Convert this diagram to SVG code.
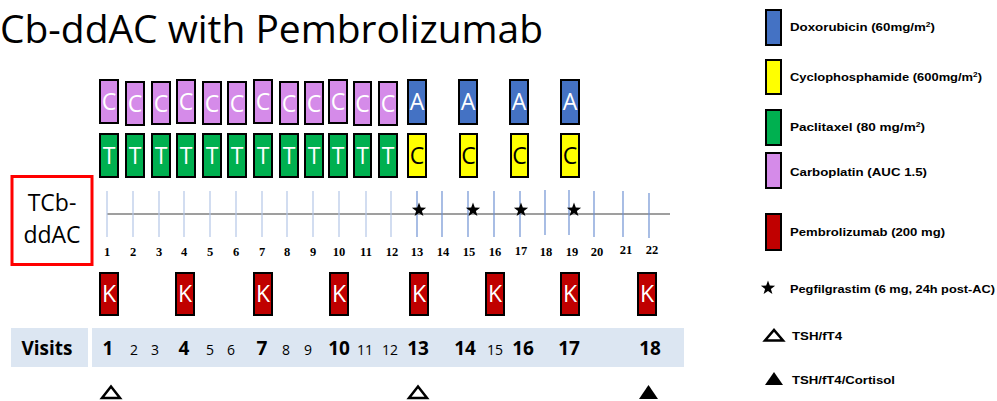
<svg xmlns="http://www.w3.org/2000/svg" width="997" height="401" viewBox="0 0 997 401">
  <defs>
    <path id="star" d="M0,-7.5 L1.8,-2.45 L7.13,-2.32 L2.9,0.94 L4.41,6.07 L0,3.05 L-4.41,6.07 L-2.9,0.94 L-7.13,-2.32 L-1.8,-2.45 Z"/>
    <style>
      .box { stroke: #000; stroke-width: 2; }
      .carbo { fill: #d58be9; }
      .pacli { fill: #00b050; }
      .doxo { fill: #4472c4; }
      .cyclo { fill: #ffff00; }
      .pembro { fill: #c00000; }
      .lt { font-family: "Open Sans", "Liberation Sans", sans-serif; font-size: 23px; text-anchor: middle; fill: #fff; }
      .lt.dark { fill: #000; }
      .tick { stroke: #b4c7e7; stroke-width: 1.2; }
      .tick.dk { stroke: #6f92d3; }
      .wk { font-family: "Liberation Serif", serif; font-weight: bold; font-size: 12.5px; text-anchor: middle; fill: #000; }
      .band { fill: #dce6f2; }
      .vbig { font-family: "Open Sans", "Liberation Sans", sans-serif; font-weight: bold; font-size: 19px; text-anchor: middle; fill: #000; }
      .vsm { font-family: "Open Sans", "Liberation Sans", sans-serif; font-size: 14px; text-anchor: middle; fill: #000; }
      .leg { font-family: "Liberation Sans", sans-serif; font-weight: bold; font-size: 11px; fill: #000; }
      .sup { font-size: 7px; }
      .tri { fill: #fff; stroke: #000; stroke-width: 2.5; stroke-linejoin: miter; }
      .trif { fill: #000; }
    </style>
  </defs>

  <rect width="997" height="401" fill="#fff"/>

  <!-- title -->
  <text x="0" y="43" font-family="Open Sans, Liberation Sans, sans-serif" font-size="39" fill="#000" textLength="543" lengthAdjust="spacingAndGlyphs">Cb-ddAC with Pembrolizumab</text>

  <!-- regimen label -->
  <g id="regimen">
    <rect x="12" y="176.5" width="80" height="88" fill="#fff" stroke="#ff0000" stroke-width="3"/>
    <text x="52" y="211" font-family="Open Sans, Liberation Sans, sans-serif" font-size="23" text-anchor="middle">TCb-</text>
    <text x="52" y="243" font-family="Open Sans, Liberation Sans, sans-serif" font-size="23" text-anchor="middle">ddAC</text>
  </g>

  <!-- carboplatin row -->
  <g id="carboplatin">
    <rect class="box carbo" x="100" y="80" width="18" height="43"/><text class="lt" x="109" y="110">C</text>
    <rect class="box carbo" x="126" y="82" width="18" height="43"/><text class="lt" x="135" y="112">C</text>
    <rect class="box carbo" x="152" y="82" width="18" height="42"/><text class="lt" x="161" y="112">C</text>
    <rect class="box carbo" x="177" y="80" width="18" height="43"/><text class="lt" x="186" y="110">C</text>
    <rect class="box carbo" x="203" y="82" width="18" height="42"/><text class="lt" x="212" y="112">C</text>
    <rect class="box carbo" x="228" y="82" width="18" height="42"/><text class="lt" x="237" y="112">C</text>
    <rect class="box carbo" x="254" y="80" width="18" height="43"/><text class="lt" x="263" y="110">C</text>
    <rect class="box carbo" x="280" y="82" width="18" height="42"/><text class="lt" x="289" y="112">C</text>
    <rect class="box carbo" x="305" y="82" width="18" height="42"/><text class="lt" x="314" y="112">C</text>
    <rect class="box carbo" x="329" y="80" width="18" height="43"/><text class="lt" x="338" y="110">C</text>
    <rect class="box carbo" x="354" y="82" width="17" height="43"/><text class="lt" x="362.5" y="112">C</text>
    <rect class="box carbo" x="379" y="82" width="18" height="43"/><text class="lt" x="388" y="112">C</text>
  </g>

  <!-- doxorubicin row -->
  <g id="doxorubicin">
    <rect class="box doxo" x="408" y="80" width="18" height="44"/><text class="lt" x="417" y="110">A</text>
    <rect class="box doxo" x="459" y="80" width="18" height="44"/><text class="lt" x="468" y="110">A</text>
    <rect class="box doxo" x="510" y="80" width="18" height="44"/><text class="lt" x="519" y="110">A</text>
    <rect class="box doxo" x="561" y="80" width="18" height="44"/><text class="lt" x="570" y="110">A</text>
  </g>

  <!-- paclitaxel row -->
  <g id="paclitaxel">
    <rect class="box pacli" x="100" y="134" width="18" height="43"/><text class="lt" x="109" y="164">T</text>
    <rect class="box pacli" x="126" y="134" width="18" height="43"/><text class="lt" x="135" y="164">T</text>
    <rect class="box pacli" x="152" y="134" width="18" height="43"/><text class="lt" x="161" y="164">T</text>
    <rect class="box pacli" x="177" y="134" width="18" height="43"/><text class="lt" x="186" y="164">T</text>
    <rect class="box pacli" x="203" y="134" width="18" height="43"/><text class="lt" x="212" y="164">T</text>
    <rect class="box pacli" x="228" y="134" width="18" height="43"/><text class="lt" x="237" y="164">T</text>
    <rect class="box pacli" x="254" y="134" width="18" height="43"/><text class="lt" x="263" y="164">T</text>
    <rect class="box pacli" x="280" y="134" width="18" height="43"/><text class="lt" x="289" y="164">T</text>
    <rect class="box pacli" x="305" y="134" width="18" height="43"/><text class="lt" x="314" y="164">T</text>
    <rect class="box pacli" x="329" y="134" width="18" height="43"/><text class="lt" x="338" y="164">T</text>
    <rect class="box pacli" x="354" y="134" width="17" height="43"/><text class="lt" x="362.5" y="164">T</text>
    <rect class="box pacli" x="379" y="134" width="18" height="43"/><text class="lt" x="388" y="164">T</text>
  </g>

  <!-- cyclophosphamide row -->
  <g id="cyclophosphamide">
    <rect class="box cyclo" x="408" y="134" width="18" height="43"/><text class="lt dark" x="417" y="164">C</text>
    <rect class="box cyclo" x="460" y="134" width="17" height="43"/><text class="lt dark" x="468.5" y="164">C</text>
    <rect class="box cyclo" x="511" y="134" width="17" height="43"/><text class="lt dark" x="519.5" y="164">C</text>
    <rect class="box cyclo" x="561" y="134" width="18" height="43"/><text class="lt dark" x="570" y="164">C</text>
  </g>

  <!-- week timeline -->
  <g id="timeline">
    <line x1="107" y1="214" x2="670" y2="214" stroke="#404040" stroke-width="1.2"/>
    <g>
      <line class="tick" x1="107" y1="191" x2="107" y2="237"/>
      <line class="tick" x1="133" y1="191" x2="133" y2="237"/>
      <line class="tick" x1="159" y1="191" x2="159" y2="237"/>
      <line class="tick" x1="184" y1="191" x2="184" y2="237"/>
      <line class="tick" x1="210" y1="191" x2="210" y2="237"/>
      <line class="tick" x1="236" y1="191" x2="236" y2="237"/>
      <line class="tick" x1="262" y1="191" x2="262" y2="237"/>
      <line class="tick" x1="287" y1="191" x2="287" y2="237"/>
      <line class="tick" x1="313" y1="191" x2="313" y2="237"/>
      <line class="tick" x1="339" y1="191" x2="339" y2="237"/>
      <line class="tick" x1="366" y1="191" x2="366" y2="237"/>
      <line class="tick" x1="391" y1="191" x2="391" y2="237"/>
      <line class="tick dk" x1="417" y1="191" x2="417" y2="237"/>
      <line class="tick dk" x1="442" y1="191" x2="442" y2="237"/>
      <line class="tick dk" x1="468" y1="191" x2="468" y2="237"/>
      <line class="tick dk" x1="494" y1="191" x2="494" y2="237"/>
      <line class="tick dk" x1="520" y1="191" x2="520" y2="237"/>
      <line class="tick dk" x1="545" y1="190" x2="545" y2="235"/>
      <line class="tick dk" x1="569" y1="190" x2="569" y2="235"/>
      <line class="tick dk" x1="594" y1="191" x2="594" y2="237"/>
      <line class="tick dk" x1="623" y1="191" x2="623" y2="237"/>
      <line class="tick dk" x1="649" y1="193" x2="649" y2="238"/>
    </g>
    <g>
      <text class="wk" x="107" y="256">1</text>
      <text class="wk" x="133" y="256">2</text>
      <text class="wk" x="159" y="256">3</text>
      <text class="wk" x="184" y="256">4</text>
      <text class="wk" x="210" y="256">5</text>
      <text class="wk" x="236" y="256">6</text>
      <text class="wk" x="262" y="256">7</text>
      <text class="wk" x="287" y="256">8</text>
      <text class="wk" x="313" y="256">9</text>
      <text class="wk" x="339" y="256">10</text>
      <text class="wk" x="366" y="256">11</text>
      <text class="wk" x="392" y="256">12</text>
      <text class="wk" x="417" y="256">13</text>
      <text class="wk" x="443" y="256">14</text>
      <text class="wk" x="469" y="256">15</text>
      <text class="wk" x="495" y="256">16</text>
      <text class="wk" x="521" y="255">17</text>
      <text class="wk" x="546" y="256">18</text>
      <text class="wk" x="572" y="256">19</text>
      <text class="wk" x="597" y="256">20</text>
      <text class="wk" x="626" y="254">21</text>
      <text class="wk" x="652" y="254">22</text>
    </g>
    <g id="pegfilgrastim">
      <use href="#star" x="419" y="210"/>
      <use href="#star" x="473" y="210"/>
      <use href="#star" x="521" y="210"/>
      <use href="#star" x="574" y="210"/>
    </g>
  </g>

  <!-- pembrolizumab row -->
  <g id="pembrolizumab">
    <rect class="box pembro" x="100" y="273" width="18" height="42"/><text class="lt" x="109" y="302">K</text>
    <rect class="box pembro" x="176" y="273" width="18" height="42"/><text class="lt" x="185" y="302">K</text>
    <rect class="box pembro" x="254" y="273" width="18" height="42"/><text class="lt" x="263" y="302">K</text>
    <rect class="box pembro" x="330" y="273" width="18" height="42"/><text class="lt" x="339" y="302">K</text>
    <rect class="box pembro" x="410" y="273" width="18" height="42"/><text class="lt" x="419" y="302">K</text>
    <rect class="box pembro" x="486" y="273" width="18" height="42"/><text class="lt" x="495" y="302">K</text>
    <rect class="box pembro" x="561" y="273" width="18" height="42"/><text class="lt" x="570" y="302">K</text>
    <rect class="box pembro" x="638" y="273" width="18" height="42"/><text class="lt" x="647" y="302">K</text>
  </g>

  <!-- visits band -->
  <g id="visits">
    <rect class="band" x="11" y="328" width="77" height="39"/>
    <rect class="band" x="92" y="328" width="592" height="39"/>
    <text x="47" y="355" font-family="Open Sans, Liberation Sans, sans-serif" font-weight="bold" font-size="19" text-anchor="middle">Visits</text>
    <text class="vbig" x="108" y="355">1</text>
    <text class="vsm" x="134" y="355">2</text>
    <text class="vsm" x="155" y="355">3</text>
    <text class="vbig" x="184" y="355">4</text>
    <text class="vsm" x="210" y="355">5</text>
    <text class="vsm" x="231" y="355">6</text>
    <text class="vbig" x="262" y="355">7</text>
    <text class="vsm" x="286" y="355">8</text>
    <text class="vsm" x="308" y="355">9</text>
    <text class="vbig" x="339" y="355">10</text>
    <text class="vsm" x="365" y="355">11</text>
    <text class="vsm" x="390" y="355">12</text>
    <text class="vbig" x="418" y="355">13</text>
    <text class="vbig" x="465" y="355">14</text>
    <text class="vsm" x="495" y="355">15</text>
    <text class="vbig" x="523" y="355">16</text>
    <text class="vbig" x="569" y="355">17</text>
    <text class="vbig" x="650" y="355">18</text>
  </g>

  <!-- thyroid / cortisol checks -->
  <g id="labs">
    <polygon class="tri" points="102,398 120,398 111,386.5"/>
    <polygon class="tri" points="409,398 427,398 418,386.5"/>
    <polygon class="trif" points="639,399 658,399 648.5,385"/>
  </g>

  <!-- legend -->
  <g id="legend">
    <rect class="box doxo" x="766" y="10" width="15" height="35" stroke-width="1.5"/>
    <text class="leg" x="790" y="31" textLength="145" lengthAdjust="spacingAndGlyphs">Doxorubicin (60mg/m<tspan class="sup" dy="-4">2</tspan><tspan dy="4">)</tspan></text>
    <rect class="box cyclo" x="766" y="60" width="15" height="34" stroke-width="1.5"/>
    <text class="leg" x="790" y="81" textLength="192" lengthAdjust="spacingAndGlyphs">Cyclophosphamide (600mg/m<tspan class="sup" dy="-4">2</tspan><tspan dy="4">)</tspan></text>
    <rect class="box pacli" x="766" y="110" width="15" height="35" stroke-width="1.5"/>
    <text class="leg" x="790" y="131" textLength="135" lengthAdjust="spacingAndGlyphs">Paclitaxel (80 mg/m<tspan class="sup" dy="-4">2</tspan><tspan dy="4">)</tspan></text>
    <rect class="box carbo" x="766" y="153" width="15" height="35" stroke-width="1.5"/>
    <text class="leg" x="790" y="176" textLength="137" lengthAdjust="spacingAndGlyphs">Carboplatin (AUC 1.5)</text>
    <rect class="box pembro" x="766" y="214" width="15" height="36" stroke-width="1.5"/>
    <text class="leg" x="790" y="236" textLength="155" lengthAdjust="spacingAndGlyphs">Pembrolizumab (200 mg)</text>
    <use href="#star" x="768" y="288"/>
    <text class="leg" x="790" y="293" textLength="205" lengthAdjust="spacingAndGlyphs">Pegfilgrastim (6 mg, 24h post-AC)</text>
    <polygon class="tri" points="765,340.5 783,340.5 774,330" stroke-width="2"/>
    <text class="leg" x="792" y="340" textLength="50" lengthAdjust="spacingAndGlyphs">TSH/fT4</text>
    <polygon class="trif" points="765,385 783,385 774,372"/>
    <text class="leg" x="792" y="384" textLength="103" lengthAdjust="spacingAndGlyphs">TSH/fT4/Cortisol</text>
  </g>
</svg>
